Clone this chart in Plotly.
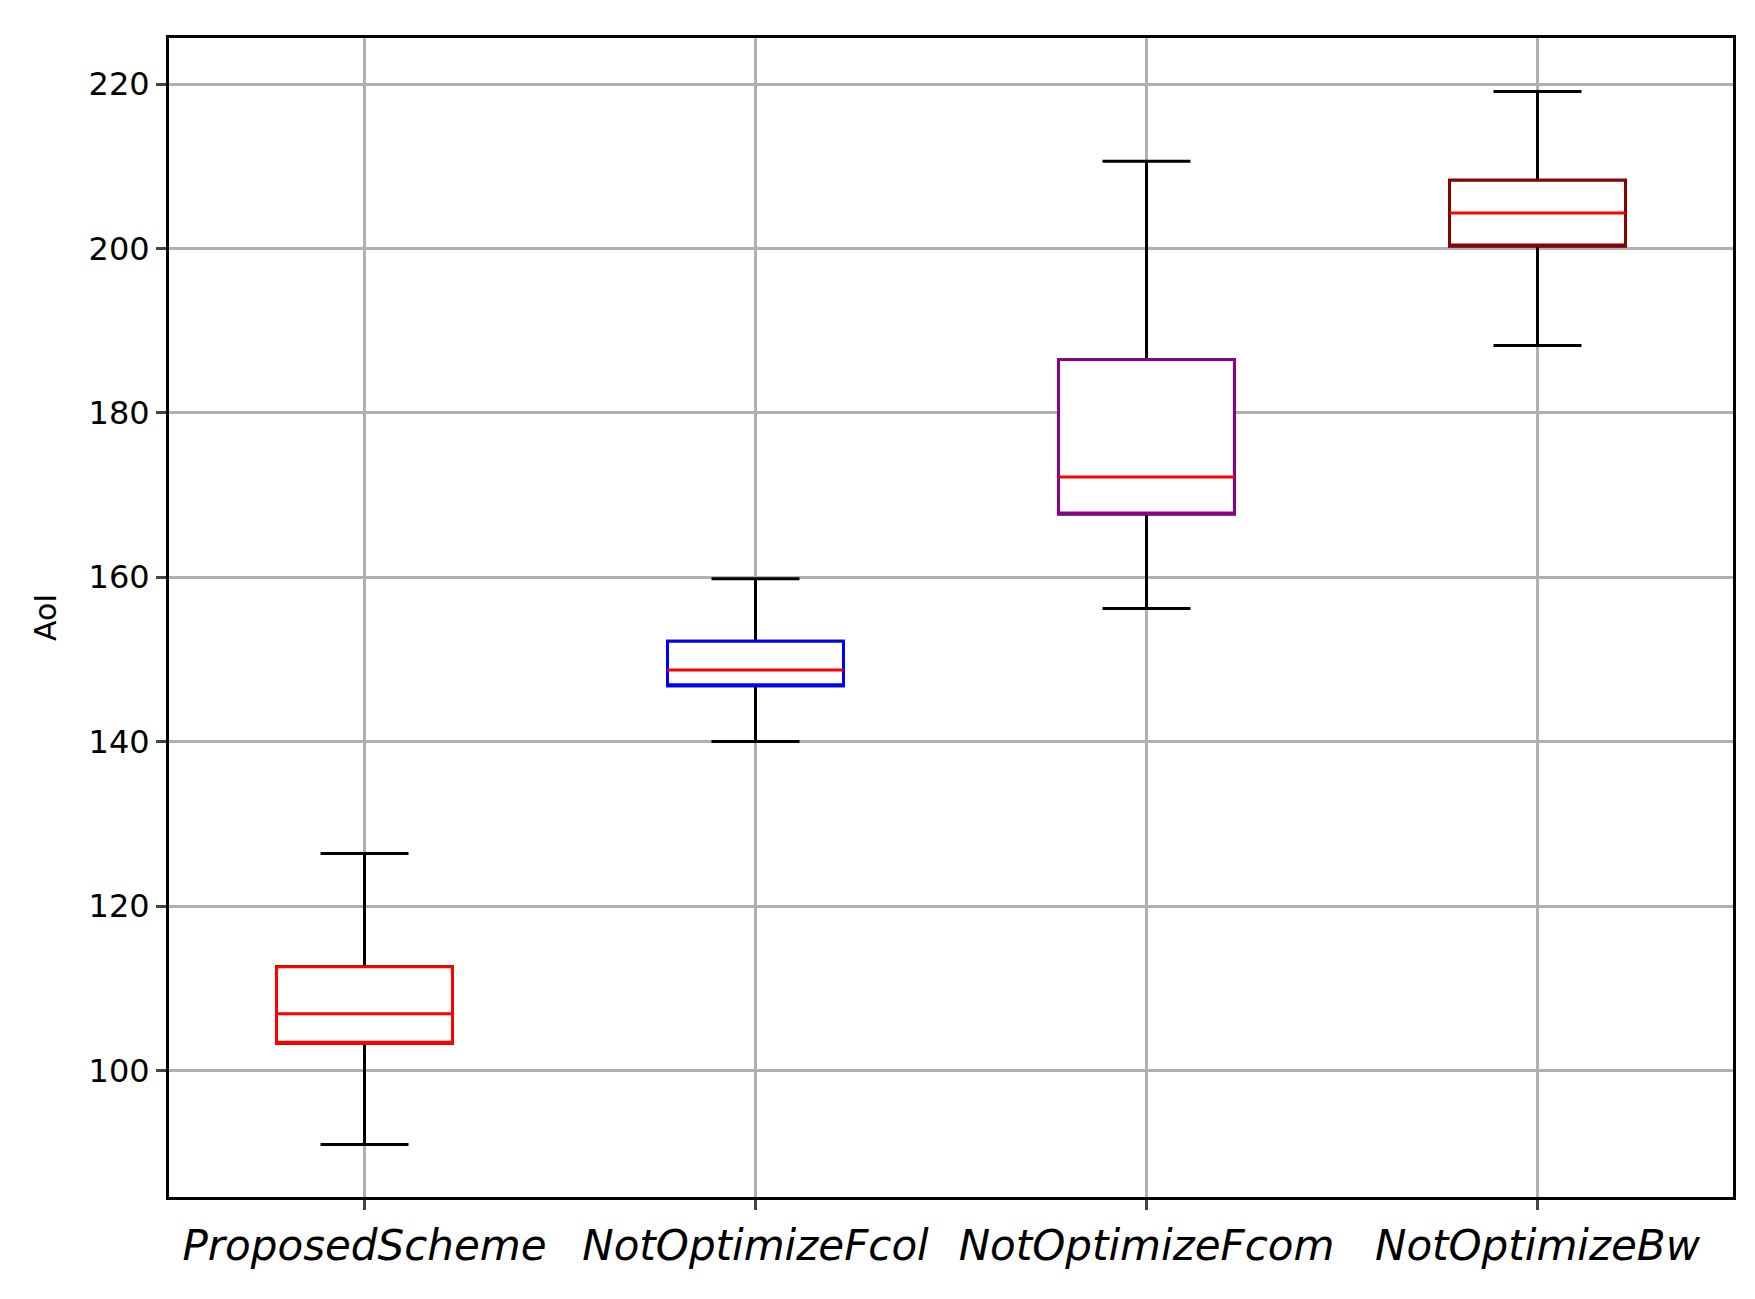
import plotly.graph_objects as go

categories = ["ProposedScheme", "NotOptimizeFcol", "NotOptimizeFcom", "NotOptimizeBw"]
lower = [91.0, 140.0, 156.2, 188.2]
q1 = [103.3, 146.8, 167.7, 200.3]
median = [106.9, 148.7, 172.2, 204.3]
q3 = [112.6, 152.2, 186.5, 208.3]
upper = [126.4, 159.8, 210.6, 219.1]
colors = ["#ff0000", "#0000ff", "#8b008b", "#8b0000"]

fig = go.Figure()
for i, c in enumerate(categories):
    fig.add_trace(go.Box(x=[c], q1=[q1[i]], median=[median[i]], q3=[q3[i]],
                         lowerfence=[lower[i]], upperfence=[upper[i]],
                         line=dict(color="black", width=3), fillcolor="rgba(0,0,0,0)",
                         width=0.45, whiskerwidth=0.5, boxpoints=False, hoverinfo="skip"))
    fig.add_trace(go.Box(x=[c], q1=[q1[i]], median=[q1[i]], q3=[q3[i]],
                         lowerfence=[q1[i]], upperfence=[q3[i]],
                         line=dict(color=colors[i], width=3), fillcolor="white",
                         width=0.45, whiskerwidth=0, boxpoints=False, hoverinfo="skip"))
    fig.add_trace(go.Box(x=[c], q1=[median[i]], median=[median[i]], q3=[median[i]],
                         lowerfence=[median[i]], upperfence=[median[i]],
                         line=dict(color="#ff0000", width=3), fillcolor="rgba(0,0,0,0)",
                         width=0.45, whiskerwidth=0, boxpoints=False, hoverinfo="skip"))

fig.update_layout(
    width=1755, height=1299, showlegend=False, boxmode="overlay",
    plot_bgcolor="white", paper_bgcolor="white",
    margin=dict(l=161, r=30, t=30, b=110),
    font=dict(family="DejaVu Sans", color="black"),
)
fig.update_xaxes(type="category", categoryorder="array", categoryarray=categories,
                 range=[-0.5, 3.5], showgrid=True, gridcolor="#b0b0b0", gridwidth=2.5,
                 showline=True, linecolor="black", linewidth=3, mirror=True,
                 ticks="outside", ticklen=10, tickwidth=3,
                 tickfont=dict(family="DejaVu Sans", size=42, style="italic"))
fig.update_yaxes(range=[84.6, 225.6], dtick=20, showgrid=True, gridcolor="#b0b0b0", gridwidth=2.5,
                 zeroline=False, showline=True, linecolor="black", linewidth=3, mirror=True,
                 ticks="outside", ticklen=10, tickwidth=3, tickfont=dict(size=32),
                 title=dict(text="AoI", font=dict(size=30), standoff=24))
fig.write_html("out.html")
